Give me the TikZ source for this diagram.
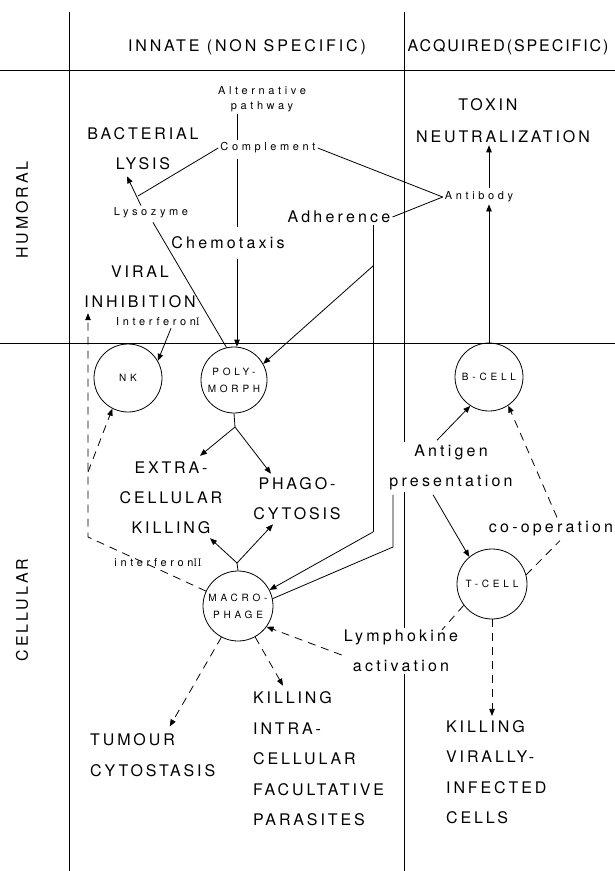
\documentclass[tikz,border=0pt]{standalone}
\usepackage{fontspec}
\newfontfamily\hvbig[LetterSpace=18]{TeX Gyre Heros}
\newfontfamily\hvhead[LetterSpace=12]{TeX Gyre Heros}
\newfontfamily\hvmed[LetterSpace=20]{TeX Gyre Heros}
\newfontfamily\hvsmall[LetterSpace=33]{TeX Gyre Heros}
\newfontfamily\hvcell[LetterSpace=38]{TeX Gyre Heros}
\usetikzlibrary{arrows.meta,calc}
\tikzset{
  big/.style={font=\hvbig\fontsize{16}{30}\selectfont, align=center, inner sep=2pt},
  bigl/.style={font=\hvbig\fontsize{16}{30.5}\selectfont, align=left, inner sep=2pt, anchor=west},
  med/.style={font=\hvmed\fontsize{16}{30}\selectfont, align=center, inner sep=2pt},
  small/.style={font=\hvsmall\fontsize{11}{15}\selectfont, align=center, inner sep=2pt},
  cell/.style={circle, draw, line width=0.8pt, minimum size=68pt, inner sep=0pt,
    font=\hvcell\fontsize{10}{17}\selectfont, align=center},
  ln/.style={line width=0.8pt},
  arr/.style={ln, -{Triangle[length=7pt,width=5.5pt]}},
  dsh/.style={dash pattern=on 8pt off 6pt},
}
\begin{document}
\begin{tikzpicture}[x=1pt,y=-1pt]
\useasboundingbox (0,0) rectangle (615,871);

% headers and side labels
\node[big] (innate) at (247,47) {INNATE (NON SPECIFIC)};
\node[big, font=\hvhead\fontsize{16}{30}\selectfont] (acq) at (508,47) {ACQUIRED(SPECIFIC)};
\node[big, rotate=90] (humoral) at (22,210) {HUMORAL};
\node[big, rotate=90] (cellular) at (22,610) {CELLULAR};

% humoral texts
\node[small] (alt) at (262,99) {Alternative\\pathway};
\node[small] (compl) at (268,148) {Complement};
\node[big] (bact) at (143,149) {BACTERIAL\\LYSIS};
\node[small] (lyso) at (151,213) {Lysozyme};
\node[med] (chemo) at (228,243) {Chemotaxis};
\node[med] (adh) at (339,217) {Adherence};
\node[small] (antib) at (479,197) {Antibody};
\node[big] (tox1) at (488,105) {TOXIN};
\node[big] (tox2) at (503,137) {NEUTRALIZATION};
\node[big] (viral) at (140,287) {VIRAL\\INHIBITION};
\node[small] (ifn1) at (158,322) {Interferon{\rmfamily I}};

% cells
\node[cell] (nk) at (128,378) {NK};
\node[cell, minimum size=66pt] (poly) at (234,380) {POLY-\\MORPH};
\node[cell] (bcell) at (489,377) {B-CELL};
\node[cell, minimum size=70pt] (tcell) at (492,584) {T-CELL};
\node[cell, minimum size=70pt] (macro) at (238,606) {MACRO-\\PHAGE};

% cellular texts
\node[big] (extra) at (171,498) {EXTRA-\\CELLULAR\\KILLING};
\node[big] (phago) at (297,499) {PHAGO-\\CYTOSIS};
\node[small] (ifn2) at (158,563) {interferon{\rmfamily II}};
\node[med] (antigen) at (451,467) {Antigen\\presentation};
\node[med] (coop) at (551,529) {co-operation};
\node[med] (lymph) at (401,651) {Lymphokine\\activation};
\node[bigl] (tumour) at (88,755) {TUMOUR\\CYTOSTASIS};
\node[bigl] (killin) at (251,759) {KILLING\\INTRA-\\CELLULAR\\FACULTATIVE\\PARASITES};
\node[bigl] (killvi) at (444,772) {KILLING\\VIRALLY-\\INFECTED\\CELLS};

% grid
\coordinate (dv) at (404,0);
\coordinate (lv) at (69,0);
\draw[ln] (0,70) -- (615,70);
\draw[ln] (0,343) -- (615,343);
\draw[ln] (69,12) -- (69,871);
\draw[ln] (404,12) -- (dv |- antigen.north);
\draw[ln] (dv |- antigen.south) -- (dv |- lymph.north);
\draw[ln] (dv |- lymph.south) -- (404,871);

% humoral connectors
\coordinate (xc) at (237,0);
\draw[ln] (alt.south -| xc) -- (compl.north -| xc);
\draw[ln] ([yshift=-3pt]compl.south -| xc) -- ([yshift=8pt]chemo.north -| xc);
\draw[arr] ([yshift=-8pt]chemo.south -| xc) -- (poly.north -| xc);
\coordinate (j1) at (138,196);
\draw[ln] (compl.west) -- (j1);
\draw[arr] ([xshift=-10pt]lyso.north) -- ([xshift=-16pt,yshift=-4pt]bact.south);
\draw[ln] ([xshift=2pt,yshift=-2pt]lyso.south) -- (poly.103);
\draw[ln] (compl.east) -- (antib.west);
\draw[ln] (adh.east) -- (antib.west);
\coordinate (ab) at (373,266);
\coordinate (ak) at (373,532);
\draw[ln] (adh.south -| ab) -- (ak);
\draw[arr] (ab) -- (poly.29);
\draw[arr] (ak) -- (macro.27);
\draw[arr] (bcell.north) -- (bcell.north |- antib.south);
\draw[arr] ([yshift=2pt]bcell.north |- antib.north) -- (bcell.north |- tox2.south);
\draw[arr] ([xshift=13pt]ifn1.south) -- (nk.30);

% cellular connectors
\coordinate (pj) at (235,427);
\draw[ln] (poly.south) -- (pj);
\draw[arr] (pj) -- ([xshift=29pt,yshift=4pt]extra.north);
\draw[arr] (pj) -- ([xshift=-26pt,yshift=2pt]phago.north);
\coordinate (mj) at (237,563);
\draw[ln] (macro.north) -- (mj);
\draw[arr] (mj) -- ([xshift=39pt,yshift=-2pt]extra.south);
\draw[arr] (mj) -- ([xshift=-24pt,yshift=-2pt]phago.south);

\coordinate (kd) at (88,537);
\coordinate (kv) at (88,472);
\draw[arr, dsh] (macro.155) -- (kd) -- ([yshift=-3pt]viral.south -| kd);
\draw[arr, dsh] (kv) -- (nk.243);

\draw[arr] ([xshift=-14pt,yshift=2pt]antigen.north) -- (bcell.237);
\draw[arr] ([xshift=-18pt,yshift=-3pt]antigen.south) -- (tcell.130);
\coordinate (xq) at (393,0);
\coordinate (qk) at (393,547);
\draw[ln] ([yshift=-3pt]antigen.south -| xq) -- (qk) -- (macro.12);

\draw[dsh, ln] (tcell.15) -- ([xshift=9pt,yshift=-2pt]coop.south);
\draw[arr, dsh] ([xshift=6pt,yshift=2pt]coop.north) -- (bcell.-56);
\draw[dsh, ln] (tcell.217) -- ([xshift=41pt,yshift=-2pt]lymph.north);
\draw[arr, dsh] ([yshift=-4pt]lymph.west) -- (macro.-36);

\draw[arr, dsh] (macro.242) -- ([xshift=17pt,yshift=5pt]tumour.north);
\draw[arr, dsh] (macro.-61) -- ([xshift=32pt,yshift=4pt]killin.north west);
\draw[arr, dsh] (tcell.south) -- ([yshift=2pt]tcell.south |- killvi.north);
\end{tikzpicture}
\end{document}
